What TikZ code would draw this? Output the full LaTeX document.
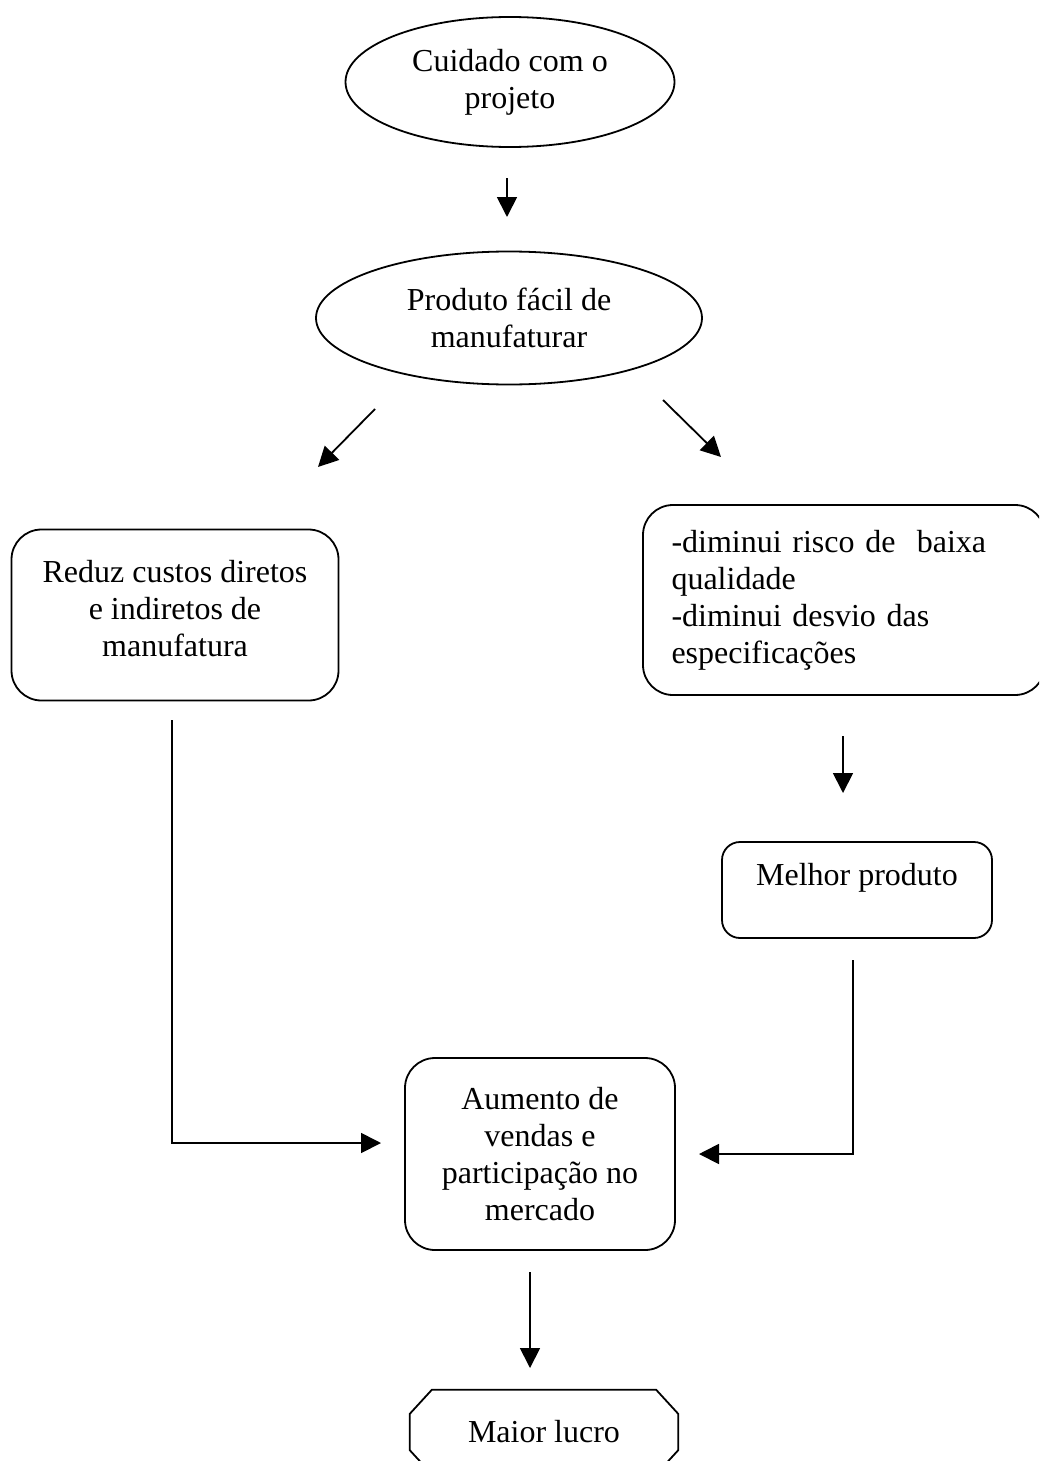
\documentclass[tikz,border=0pt]{standalone}
\usepackage{fontspec}
\setmainfont{Liberation Serif}
\usetikzlibrary{shapes.geometric,arrows.meta}

\tikzset{
  txt/.style={font=\fontsize{32}{37}\selectfont},
  oval/.style={ellipse, draw, line width=1.8pt, inner sep=0pt, align=center, txt},
  rbox/.style={rectangle, rounded corners=30pt, draw, line width=1.8pt, inner sep=0pt, txt},
  flow/.style={line width=1.8pt, -{Triangle[length=20pt,width=20pt]}},
}

\begin{document}
\begin{tikzpicture}[x=1pt,y=1pt,yscale=-1,xscale=1]
        \clip (0,0) rectangle (1039,1461);
        %Shape: Ellipse
        \node [oval, minimum width=329pt, minimum height=130pt] (cuidado) at (510,82) {Cuidado com o\\projeto};
        %Shape: Ellipse
        \node [oval, minimum width=386pt, minimum height=133pt] (facil) at (509,318) {Produto fácil de\\manufaturar};
        %Rounded Rect
        \node [rbox, align=center, minimum width=327pt, minimum height=171pt, text depth=14pt] (custos) at (175,615) {Reduz custos diretos\\e indiretos de\\manufatura};
        %Rounded Rect
        \node [rbox, align=left, text width=345pt, minimum width=402pt, minimum height=190pt] (risco) at (844,600) {-diminui risco de\ \ baixa\\qualidade\\-diminui desvio das\\especificações};
        %Rounded Rect
        \node [rbox, rounded corners=18pt, align=center, minimum width=270pt, minimum height=96pt, text depth=32pt] (melhor) at (857,890) {Melhor produto};
        %Rounded Rect
        \node [rbox, align=center, minimum width=270pt, minimum height=192pt] (vendas) at (540,1154) {Aumento de\\vendas e\\participação no\\mercado};
        %Shape: Octagon
        \node [inner sep=0pt, minimum width=268pt, minimum height=84pt, txt] (lucro) at (544,1432) {Maior lucro};
        \draw [line width=1.8pt] ([xshift=22pt]lucro.north west) -- ([xshift=-22pt]lucro.north east) -- ([yshift=24pt]lucro.north east) -- ([yshift=-24pt]lucro.south east) -- ([xshift=-22pt]lucro.south east) -- ([xshift=22pt]lucro.south west) -- ([yshift=-24pt]lucro.south west) -- ([yshift=24pt]lucro.north west) -- cycle ;

        %free ends of the arrows
        \coordinate (a1s) at (507,178);  \coordinate (a1e) at (507,217);
        \coordinate (a2s) at (375,409);  \coordinate (a2e) at (318,467);
        \coordinate (a3s) at (663,400);  \coordinate (a3e) at (721,457);
        \coordinate (a4s) at (843,736);  \coordinate (a4e) at (843,793);
        \coordinate (a5s) at (172,720);  \coordinate (a5e) at (381,1143);
        \coordinate (a6s) at (853,960);  \coordinate (a6e) at (699,1154);
        \coordinate (a7s) at (530,1272); \coordinate (a7e) at (530,1368);

        %Straight Lines
        \draw [flow] (a1s) -- (a1e) ;
        \draw [flow] (a2s) -- (a2e) ;
        \draw [flow] (a3s) -- (a3e) ;
        \draw [flow] (a4s) -- (a4e) ;
        %Elbow Lines
        \draw [flow] (a5s) |- (a5e) ;
        \draw [flow] (a6s) |- (a6e) ;
        %Straight Lines
        \draw [flow] (a7s) -- (a7e) ;
\end{tikzpicture}
\end{document}
